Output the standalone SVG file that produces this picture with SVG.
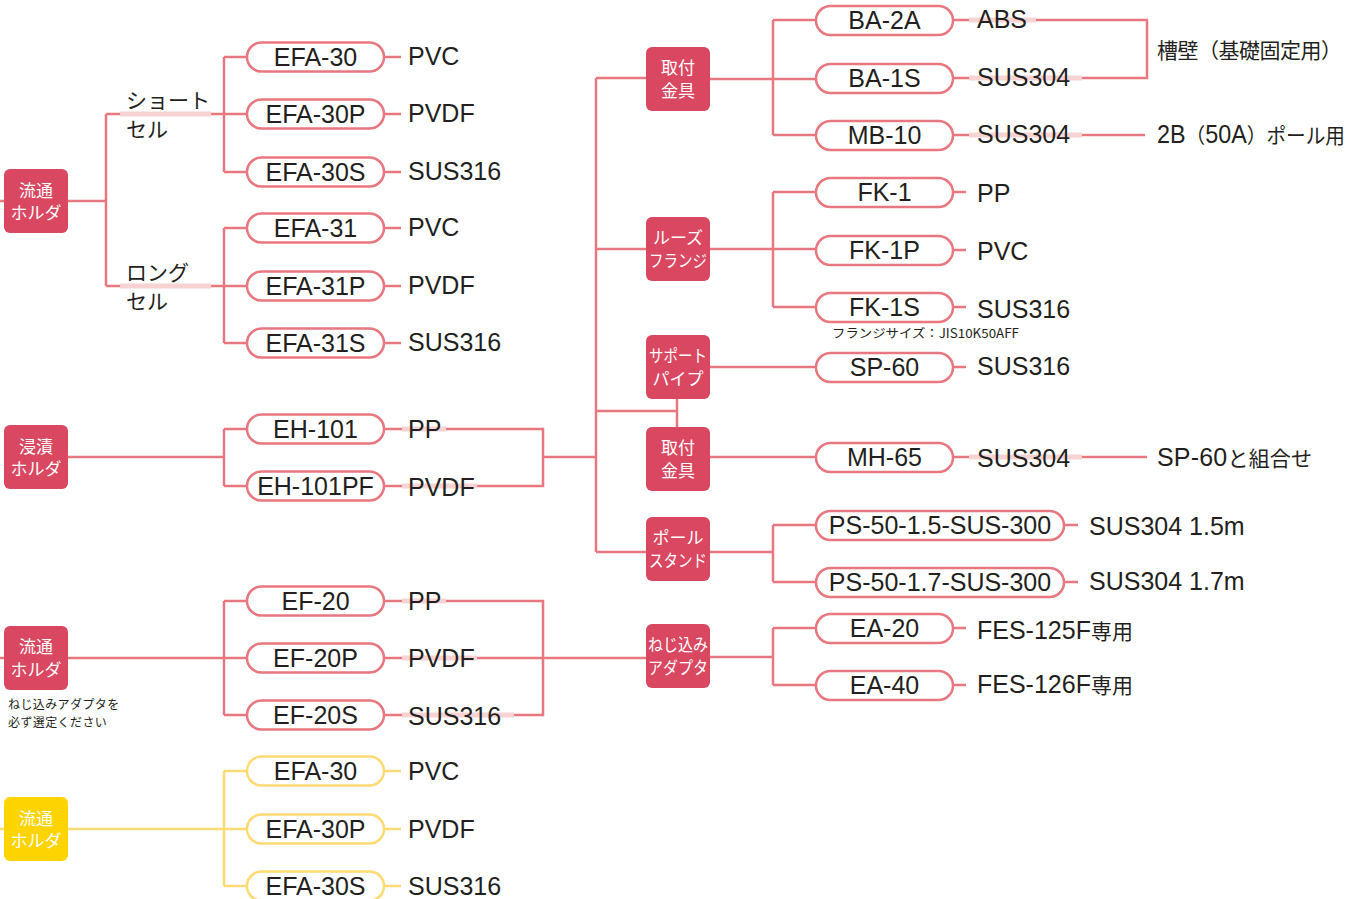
<svg xmlns="http://www.w3.org/2000/svg" width="1359" height="899" viewBox="0 0 1359 899">
<style>
.box{fill:#da4761}
.boxy{fill:#fed400}
.bt{fill:#fff;font-family:"Noto Sans CJK JP",sans-serif;font-size:17px;text-anchor:middle}
.pill{fill:#fff;stroke:#e8777f;stroke-width:2.5}
.pilly{fill:#fff;stroke:#fddb72;stroke-width:2.5}
.ln{fill:none;stroke:#e8777f;stroke-width:2.5}
.lny{fill:none;stroke:#fddb72;stroke-width:2.5}
.band{fill:none;stroke:#f7d4d3;stroke-width:5}
.t{font-family:"Liberation Sans","Noto Sans CJK JP",sans-serif;font-size:25px;fill:#231f20}
.pt{text-anchor:middle}
.j{font-family:"Noto Sans CJK JP",sans-serif;font-size:21px;fill:#231f20}
.s{font-family:"Noto Sans CJK JP",sans-serif;font-size:12px;fill:#231f20;letter-spacing:0.4px}
</style>
<g id="connectors">
<path class="ln" d="M0,201H4M68,201H106M106,114V286M106,114H247M106,286H247M224,57V172M224,57H247M224,172H247M224,228V343M224,228H247M224,343H247M384,57H401M384,114H401M384,172H401M384,228H401M384,286H401M384,343H401"/>
<path class="ln" d="M68,457H224M224,429V486M224,429H247M224,486H247M384,429H543V486H384M543,457H596"/>
<path class="ln" d="M0,658H4M68,658H247M224,601V715M224,601H247M224,715H247M384,601H543V715H384M384,658H646"/>
<path class="lny" d="M0,829H4M68,829H247M224,771V886M224,771H247M224,886H247M384,771H401M384,829H401M384,886H401"/>
<path class="ln" d="M596,78V552M596,78H646M596,249H646M596,411H677M677,399V427M596,552H646"/>
<path class="ln" d="M710,79H816M773,20V135M773,20H816M773,135H816M953,20H1147V78H953M953,135H1145"/>
<path class="ln" d="M710,249H816M773,192V307M773,192H816M773,307H816M953,192H966M953,250H966M953,307H966"/>
<path class="ln" d="M710,367H816M953,367H966M710,457H816M953,457H1147"/>
<path class="ln" d="M710,552H773M773,525V582M773,525H816M773,582H816M1064,525H1078M1064,582H1078"/>
<path class="ln" d="M710,657H773M773,628V685M773,628H816M773,685H816M953,628H966M953,685H966"/>
<path class="band" d="M120,114H211M120,286H211M402,429H446M402,486H477M402,601H446M402,658H477M402,715H514M969,20H1036M969,78H1082M969,135H1082M969,457H1082"/>
</g>
<g id="holder-flow-1"><rect class="box" x="4" y="169" width="64" height="64" rx="6"/><text class="bt" x="36" y="196.5">流通</text><text class="bt" x="36" y="219">ホルダ</text></g>
<g id="holder-dip"><rect class="box" x="4" y="425" width="64" height="64" rx="6"/><text class="bt" x="36" y="452.5">浸漬</text><text class="bt" x="36" y="475">ホルダ</text></g>
<g id="holder-flow-2"><rect class="box" x="4" y="626" width="64" height="64" rx="6"/><text class="bt" x="36" y="653">流通</text><text class="bt" x="36" y="675.5">ホルダ</text>
<text class="s" x="8" y="709">ねじ込みアダプタを</text><text class="s" x="8" y="727">必ず選定ください</text></g>
<g id="holder-flow-3"><rect class="boxy" x="4" y="797" width="64" height="64" rx="6"/><text class="bt" x="36" y="824.5">流通</text><text class="bt" x="36" y="847">ホルダ</text></g>
<g id="short-cell"><text class="j" x="126" y="108">ショート</text><text class="j" x="126" y="137">セル</text></g>
<g id="long-cell"><text class="j" x="126" y="280">ロング</text><text class="j" x="126" y="309">セル</text></g>
<g id="left-pills">
<rect class="pill" x="247" y="42.5" width="137" height="29" rx="14.5"/><text class="t pt" x="315.5" y="66">EFA-30</text>
<rect class="pill" x="247" y="99.5" width="137" height="29" rx="14.5"/><text class="t pt" x="315.5" y="123">EFA-30P</text>
<rect class="pill" x="247" y="157.5" width="137" height="29" rx="14.5"/><text class="t pt" x="315.5" y="181">EFA-30S</text>
<rect class="pill" x="247" y="213.5" width="137" height="29" rx="14.5"/><text class="t pt" x="315.5" y="237">EFA-31</text>
<rect class="pill" x="247" y="271.5" width="137" height="29" rx="14.5"/><text class="t pt" x="315.5" y="295">EFA-31P</text>
<rect class="pill" x="247" y="328.5" width="137" height="29" rx="14.5"/><text class="t pt" x="315.5" y="352">EFA-31S</text>
<rect class="pill" x="247" y="414.5" width="137" height="29" rx="14.5"/><text class="t pt" x="315.5" y="438">EH-101</text>
<rect class="pill" x="247" y="471.5" width="137" height="29" rx="14.5"/><text class="t pt" x="315.5" y="495">EH-101PF</text>
<rect class="pill" x="247" y="586.5" width="137" height="29" rx="14.5"/><text class="t pt" x="315.5" y="610">EF-20</text>
<rect class="pill" x="247" y="643.5" width="137" height="29" rx="14.5"/><text class="t pt" x="315.5" y="667">EF-20P</text>
<rect class="pill" x="247" y="700.5" width="137" height="29" rx="14.5"/><text class="t pt" x="315.5" y="724">EF-20S</text>
<rect class="pilly" x="247" y="756.5" width="137" height="29" rx="14.5"/><text class="t pt" x="315.5" y="780">EFA-30</text>
<rect class="pilly" x="247" y="814.5" width="137" height="29" rx="14.5"/><text class="t pt" x="315.5" y="838">EFA-30P</text>
<rect class="pilly" x="247" y="871.5" width="137" height="29" rx="14.5"/><text class="t pt" x="315.5" y="895">EFA-30S</text>
</g>
<g id="left-materials">
<text class="t" x="408" y="65">PVC</text><text class="t" x="408" y="122">PVDF</text><text class="t" x="408" y="180">SUS316</text>
<text class="t" x="408" y="236">PVC</text><text class="t" x="408" y="294">PVDF</text><text class="t" x="408" y="351">SUS316</text>
<text class="t" x="408" y="438">PP</text><text class="t" x="408" y="496">PVDF</text>
<text class="t" x="408" y="610">PP</text><text class="t" x="408" y="667">PVDF</text><text class="t" x="408" y="725">SUS316</text>
<text class="t" x="408" y="780">PVC</text><text class="t" x="408" y="838">PVDF</text><text class="t" x="408" y="895">SUS316</text>
</g>
<g id="mount-1"><rect class="box" x="646" y="47" width="64" height="64" rx="6"/><text class="bt" x="678" y="74">取付</text><text class="bt" x="678" y="97">金具</text></g>
<g id="loose-flange"><rect class="box" x="646" y="217" width="64" height="64" rx="6"/><text class="bt" x="678" y="244">ルーズ</text><text class="bt" x="678" y="267" textLength="58" lengthAdjust="spacingAndGlyphs">フランジ</text></g>
<g id="support-pipe"><rect class="box" x="646" y="335" width="64" height="64" rx="6"/><text class="bt" x="678" y="362" textLength="58" lengthAdjust="spacingAndGlyphs">サポート</text><text class="bt" x="678" y="385">パイプ</text></g>
<g id="mount-2"><rect class="box" x="646" y="427" width="64" height="64" rx="6"/><text class="bt" x="678" y="454">取付</text><text class="bt" x="678" y="477">金具</text></g>
<g id="pole-stand"><rect class="box" x="646" y="517" width="64" height="64" rx="6"/><text class="bt" x="678" y="544">ポール</text><text class="bt" x="678" y="567" textLength="58" lengthAdjust="spacingAndGlyphs">スタンド</text></g>
<g id="screw-adapter"><rect class="box" x="646" y="624" width="64" height="64" rx="6"/><text class="bt" x="678" y="651" textLength="60" lengthAdjust="spacingAndGlyphs">ねじ込み</text><text class="bt" x="678" y="674" textLength="60" lengthAdjust="spacingAndGlyphs">アダプタ</text></g>
<g id="right-pills">
<rect class="pill" x="816" y="6" width="137" height="29" rx="14.5"/><text class="t pt" x="884.5" y="29">BA-2A</text>
<rect class="pill" x="816" y="64" width="137" height="29" rx="14.5"/><text class="t pt" x="884.5" y="87">BA-1S</text>
<rect class="pill" x="816" y="121" width="137" height="29" rx="14.5"/><text class="t pt" x="884.5" y="144">MB-10</text>
<rect class="pill" x="816" y="178" width="137" height="29" rx="14.5"/><text class="t pt" x="884.5" y="201">FK-1</text>
<rect class="pill" x="816" y="236" width="137" height="29" rx="14.5"/><text class="t pt" x="884.5" y="259">FK-1P</text>
<rect class="pill" x="816" y="293" width="137" height="29" rx="14.5"/><text class="t pt" x="884.5" y="316">FK-1S</text>
<rect class="pill" x="816" y="353" width="137" height="29" rx="14.5"/><text class="t pt" x="884.5" y="376">SP-60</text>
<rect class="pill" x="816" y="443" width="137" height="29" rx="14.5"/><text class="t pt" x="884.5" y="466">MH-65</text>
<rect class="pill" x="816" y="511" width="248" height="29" rx="14.5"/><text class="t pt" x="940" y="534">PS-50-1.5-SUS-300</text>
<rect class="pill" x="816" y="568" width="248" height="29" rx="14.5"/><text class="t pt" x="940" y="591">PS-50-1.7-SUS-300</text>
<rect class="pill" x="816" y="614" width="137" height="29" rx="14.5"/><text class="t pt" x="884.5" y="637">EA-20</text>
<rect class="pill" x="816" y="671" width="137" height="29" rx="14.5"/><text class="t pt" x="884.5" y="694">EA-40</text>
</g>
<g id="right-materials">
<text class="t" x="977" y="28">ABS</text><text class="t" x="977" y="86">SUS304</text><text class="t" x="977" y="143">SUS304</text>
<text class="t" x="977" y="202">PP</text><text class="t" x="977" y="260">PVC</text><text class="t" x="977" y="318">SUS316</text>
<text class="s" x="832" y="338" style="font-size:12.5px;letter-spacing:0" textLength="187" lengthAdjust="spacingAndGlyphs">フランジサイズ：JIS10K50AFF</text>
<text class="t" x="977" y="375">SUS316</text><text class="t" x="977" y="467">SUS304</text>
<text class="t" x="1089" y="535">SUS304 1.5m</text><text class="t" x="1089" y="590">SUS304 1.7m</text>
<text class="t" x="977" y="639">FES-125F<tspan class="j">専用</tspan></text><text class="t" x="977" y="693">FES-126F<tspan class="j">専用</tspan></text>
</g>
<g id="notes">
<text class="j" x="1157" y="58" textLength="185" lengthAdjust="spacing">槽壁（基礎固定用）</text>
<text class="t" x="1157" y="143" textLength="188" lengthAdjust="spacingAndGlyphs">2B<tspan class="j">（</tspan>50A<tspan class="j">）ポール用</tspan></text>
<text class="t" x="1157" y="466" textLength="155" lengthAdjust="spacing">SP-60<tspan class="j">と組合せ</tspan></text>
</g>
</svg>
